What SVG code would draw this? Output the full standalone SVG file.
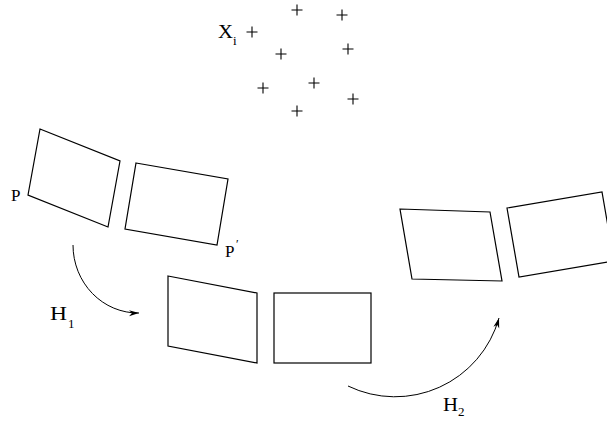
<svg xmlns="http://www.w3.org/2000/svg" xmlns:xlink="http://www.w3.org/1999/xlink" width="607" height="421" viewBox="0 0 607 421">
<style>
.q{fill:none;stroke:#000;stroke-width:1.2;stroke-linejoin:miter}
.c{fill:none;stroke:#000;stroke-width:1}
.t{font-family:"Liberation Serif","Times New Roman",serif;fill:#000}
.pl{fill:none;stroke:#000;stroke-width:1.1}
</style>
<defs>
<path id="plus" class="pl" d="M-5.5,0H5.5M0,-5.5V5.5"/>
<marker id="ah" markerUnits="userSpaceOnUse" markerWidth="12" markerHeight="8" refX="10" refY="3" orient="auto">
<path d="M0,0L10,3L0,6L3,3Z" fill="#000"/>
</marker>
</defs>
<rect width="607" height="421" fill="#fff"/>
<g id="points">
<use xlink:href="#plus" x="297" y="10"/>
<use xlink:href="#plus" x="342" y="15"/>
<use xlink:href="#plus" x="252" y="32"/>
<use xlink:href="#plus" x="281" y="54"/>
<use xlink:href="#plus" x="348" y="49"/>
<use xlink:href="#plus" x="314" y="83"/>
<use xlink:href="#plus" x="263" y="88"/>
<use xlink:href="#plus" x="353" y="99"/>
<use xlink:href="#plus" x="297" y="111"/>
<text class="t" x="218" y="38" font-size="18" textLength="15" lengthAdjust="spacingAndGlyphs">X</text>
<text class="t" x="233" y="45" font-size="13">i</text>
</g>
<g id="image1">
<polygon class="q" points="40,129 120,161 108,227 28,195"/>
<text class="t" x="11" y="201" font-size="17">P</text>
</g>
<g id="image2">
<polygon class="q" points="136,163 228,179 217,245 125,229"/>
<text class="t" x="225" y="257" font-size="17">P</text>
<text class="t" x="236" y="248" font-size="12">′</text>
</g>
<g id="image3">
<polygon class="q" points="168,276 257,293 257,363 168,346"/>
</g>
<g id="image4">
<rect class="q" x="274" y="293" width="97" height="70"/>
</g>
<g id="image5">
<polygon class="q" points="400,209 490,212 502,281 412,279"/>
</g>
<g id="image6">
<polygon class="q" points="507,208 602,192 614,261 519,277"/>
</g>
<g id="connectors">
<path class="c" d="M73,245 A65,68 0 0 0 139,313" marker-end="url(#ah)"/>
<path class="c" d="M348,386 A108,108 0 0 0 499,318" marker-end="url(#ah)"/>
</g>
<g id="labels">
<text class="t" x="50" y="320" font-size="18" textLength="17" lengthAdjust="spacingAndGlyphs">H</text>
<text class="t" x="68" y="328" font-size="13">1</text>
<text class="t" x="443" y="411" font-size="18" textLength="15" lengthAdjust="spacingAndGlyphs">H</text>
<text class="t" x="458" y="416" font-size="13">2</text>
</g>
</svg>
